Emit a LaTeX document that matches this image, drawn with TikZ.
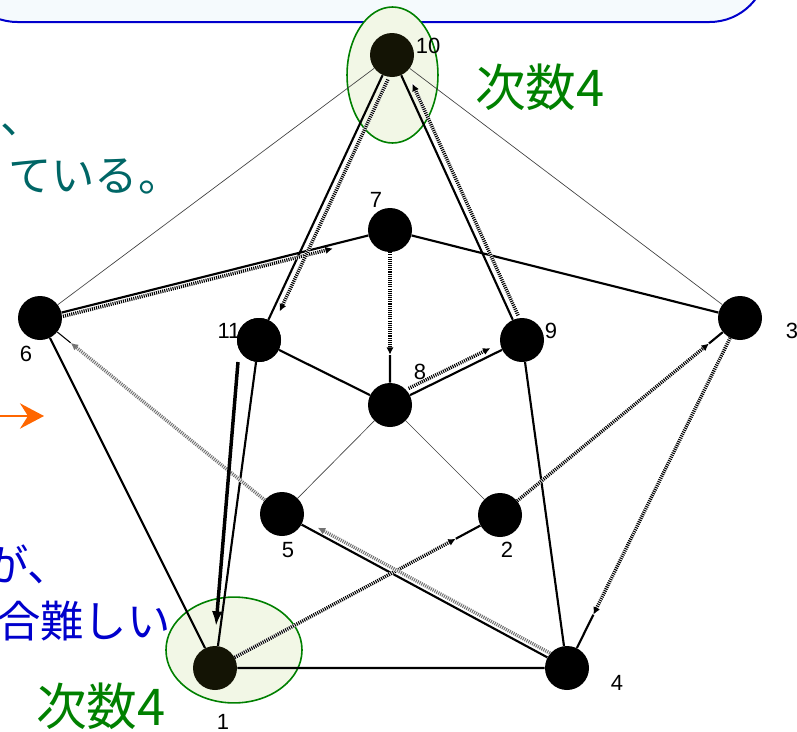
\documentclass[tikz,border=0pt]{standalone}
\usepackage{fontspec}
\setmainfont{Liberation Sans}
\newfontfamily\jpfont{Noto Sans CJK JP}
\usetikzlibrary{arrows.meta,calc}

\definecolor{boxfill}{RGB}{245,250,253}
\definecolor{boxblue}{RGB}{0,0,204}
\definecolor{hlfill}{RGB}{242,247,230}
\definecolor{hlgreen}{RGB}{0,128,0}
\definecolor{noteteal}{RGB}{0,102,102}
\definecolor{noteblue}{RGB}{0,0,204}
\definecolor{noteorange}{RGB}{255,102,0}
\definecolor{hubfill}{RGB}{20,20,5}

\begin{document}
\begin{tikzpicture}[x=0.75pt,y=-0.75pt,>=Latex,
  vtx/.style={circle,fill=black,minimum size=33pt,inner sep=0pt},
  num/.style={font=\fontsize{16.5}{18}\selectfont,inner sep=0pt},
  edge/.style={line width=1.6pt},
  faint/.style={line width=0.5pt,black!75},
  tour/.style={line width=2.6pt,dash pattern=on 0.8pt off 0.8pt,-{Latex[length=5.5pt,width=5.5pt]},
    preaction={draw=white,solid,line width=2.6pt,-}},
  hl/.style={draw=hlgreen,fill=hlfill,line width=1.2pt},
  jp/.style={font=\jpfont\fontsize{32.5}{36}\selectfont,inner sep=0pt},
  deg/.style={font=\jpfont\fontsize{38}{42}\selectfont,inner sep=0pt,text=hlgreen}]
\useasboundingbox (0,0) rectangle (797,732);
\clip (0,0) rectangle (797,732);

% slide frame and highlights
\draw[boxblue,fill=boxfill,line width=1.5pt,rounded corners=43pt] (-40,-100) rectangle (767,22);
\draw[hl] (392.5,75) ellipse [x radius=34.1pt,y radius=51pt];
\draw[hl] (234,650) ellipse [x radius=51pt,y radius=39.7pt];

% vertices
\node[vtx,fill=hubfill] (n10) at (392,55) {};
\node[vtx] (n7) at (390,230) {};
\node[vtx] (n6) at (40,318) {};
\node[vtx] (n11) at (259,340) {};
\node[vtx] (n9) at (522,340) {};
\node[vtx] (n3) at (740,318) {};
\node[vtx] (n8) at (390,405) {};
\node[vtx] (n5) at (282,514) {};
\node[vtx] (n2) at (500,515) {};
\node[vtx,fill=hubfill] (n1) at (215,668) {};
\node[vtx] (n4) at (567,668) {};

\node[num] (t10) at (428,46) {10};
\node[num] (t7) at (376,200) {7};
\node[num] (t6) at (26,354) {6};
\node[num] (t11) at (229,331) {11};
\node[num] (t9) at (551,331) {9};
\node[num] (t3) at (792,331) {3};
\node[num] (t8) at (420,372) {8};
\node[num] (t5) at (288,550) {5};
\node[num] (t2) at (507,550) {2};
\node[num] (t1) at (223,722) {1};
\node[num] (t4) at (617,683) {4};
\node[vtx] at (n11) {};

% edges
\draw[faint] (n10) -- (n6) (n10) -- (n3) (n8) -- (n5) (n8) -- (n2);
\draw[edge] (n10) -- (n11) (n10) -- (n9) (n7) -- (n6) (n7) -- (n3) (n7) -- (n8)
  (n6) -- (n1) (n11) -- (n8) (n11) -- (n1) (n8) -- (n9) (n9) -- (n4) (n5) -- (n4)
  (n1) -- (n4) (n3) -- (n4) (n3) -- (n2) (n2) -- (n1);
\draw[line width=0.8pt] (n6) -- (n5);

% tour
\draw[tour,shorten >=21pt] (n1) -- (n2);
\draw[tour,shorten >=13.5pt] (n2) -- (n3);
\draw[tour,shorten >=28pt] (n3) -- (n4);
\draw[tour,black!55,shorten <=16.5pt,shorten >=28.5pt] ($(n4)!3.75pt!-90:(n5)$) -- ($(n5)!3.75pt!90:(n4)$);
\draw[tour,black!55,shorten >=13pt] (n5) -- (n6);
\draw[tour,shorten <=17pt,shorten >=45pt] ($(n6)!3pt!-90:(n7)$) -- ($(n7)!3pt!90:(n6)$);
\draw[tour,shorten >=21pt] (n7) -- (n8);
\draw[tour,shorten <=18pt,shorten >=24pt] ($(n8)!5pt!90:(n9)$) -- ($(n9)!5pt!-90:(n8)$);
\draw[tour,shorten <=18pt,shorten >=26pt] ($(n9)!5pt!-90:(n10)$) -- ($(n10)!5pt!90:(n9)$);
\draw[tour,shorten <=18pt,shorten >=26pt] ($(n10)!5pt!90:(n11)$) -- ($(n11)!5pt!-90:(n10)$);
\draw[line width=2.6pt,-{Latex[length=11pt,width=8pt]}] ($(n11)+(-21,22)$) -- ($(n1)+(1,-42)$);

% slide text
\node[deg] (deg10) at (540,87) {次数4};
\node[deg] (deg1) at (101,706) {次数4};
\node[jp,text=noteteal,anchor=west] (tealA) at (0,130) {、};
\node[jp,text=noteteal,anchor=west] (tealB) at (8,176) {ている。};
\node[jp,text=noteblue,anchor=west] (blueA) at (-15,564) {が、};
\node[jp,text=noteblue,anchor=west] (blueB) at (-3,621) {合難しい};
\coordinate (oa) at (0,416);
\coordinate (ob) at (44,416);
\draw[noteorange,line width=1.5pt,-{Stealth[length=18pt,width=19pt,inset=6pt]}] (oa) -- (ob);
\end{tikzpicture}
\end{document}
